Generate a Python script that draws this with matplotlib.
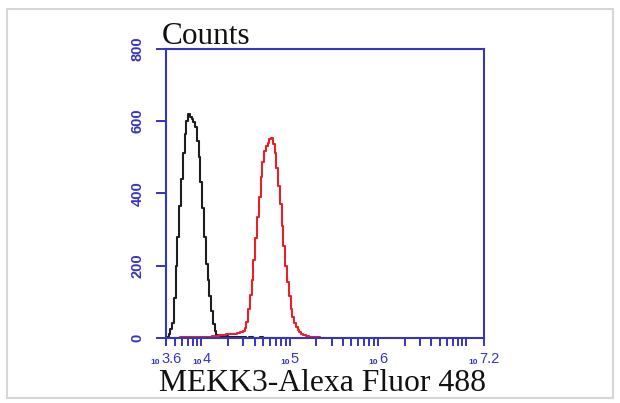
"""Flow cytometry histogram: MEKK3-Alexa Fluor 488 vs control"""

import numpy as np
import matplotlib
matplotlib.use("Agg")
from matplotlib import pyplot as plt
from matplotlib.patches import Rectangle
from matplotlib.ticker import FixedLocator, NullFormatter, LogLocator
from matplotlib.offsetbox import TextArea, HPacker, AnnotationBbox

# Histogram data (log10 of fluorescence, counts)
control_log = [3.60, 3.62, 3.64, 3.66, 3.68, 3.70, 3.72, 3.74, 3.76, 3.78,
               3.80, 3.82, 3.84, 3.86, 3.88, 3.90, 3.92, 3.94, 3.96, 3.98,
               4.00, 4.02, 4.04, 4.06, 4.08, 4.10, 4.12, 4.14, 4.16, 4.18,
               4.20, 4.24, 4.28, 4.32, 4.36, 4.40, 4.44, 4.48, 4.52, 4.56,
               4.60, 4.64, 4.68, 4.72, 4.76, 4.80, 4.84, 4.88, 4.92, 4.96]
control_counts = [0, 4, 12, 25, 42, 110, 198, 280, 365, 440,
                  510, 565, 600, 618, 612, 606, 598, 582, 545, 500,
                  430, 360, 280, 205, 160, 115, 75, 40, 20, 9,
                  6, 5, 6, 4, 3, 2, 2, 2, 1, 2,
                  1, 1, 2, 1, 1, 1, 0, 1, 0, 0]

mekk3_log = [3.60, 3.70, 3.80, 3.90, 4.00, 4.06, 4.10, 4.14, 4.18, 4.22,
             4.26, 4.30, 4.34, 4.38, 4.42, 4.46, 4.48, 4.50, 4.52, 4.54,
             4.56, 4.58, 4.60, 4.62, 4.64, 4.66, 4.68, 4.70, 4.72, 4.74,
             4.76, 4.78, 4.80, 4.82, 4.84, 4.86, 4.88, 4.90, 4.92, 4.94,
             4.96, 4.98, 5.00, 5.02, 5.04, 5.06, 5.08, 5.10, 5.12, 5.14,
             5.16, 5.18, 5.20, 5.24, 5.28, 5.32, 5.36, 5.40]
mekk3_counts = [1, 1, 2, 2, 2, 3, 4, 5, 6, 8,
                9, 10, 11, 12, 14, 17, 20, 28, 45, 80,
                120, 160, 215, 275, 335, 390, 445, 485, 518, 530,
                540, 550, 553, 535, 510, 470, 420, 370, 310, 255,
                200, 155, 115, 80, 58, 42, 30, 22, 16, 12,
                9, 7, 5, 4, 3, 2, 1, 0]

# Axis ticks
y_ticks = [0, 200, 400, 600, 800]
x_tick_exp = [3.6, 4, 5, 6, 7.2]
x_tick_labels = ["3.6", "4", "5", "6", "7.2"]

blue = "#3535c0"

fig = plt.figure(figsize=(6.2, 4.03), dpi=100)
fig.patch.set_facecolor("white")

# light grey frame around the whole picture
fig.patches.append(Rectangle((7 / 620, 5 / 403), 606 / 620, 389 / 403,
                             transform=fig.transFigure, fill=False,
                             edgecolor="#d6d6d6", linewidth=1.5))

ax = fig.add_axes([166 / 620, 65 / 403, 318 / 620, 289.5 / 403])

ax.plot(10 ** np.array(control_log), control_counts, drawstyle="steps-mid",
        color="#1e1e1e", linewidth=1.5)
ax.plot(10 ** np.array(mekk3_log), mekk3_counts, drawstyle="steps-mid",
        color="#e8202a", linewidth=1.5)

ax.set_xscale("log")
ax.set_xlim(10 ** 3.6, 10 ** 7.2)
ax.set_ylim(0, 800)

ax.xaxis.set_major_locator(FixedLocator([10 ** e for e in x_tick_exp]))
ax.xaxis.set_major_formatter(NullFormatter())
ax.xaxis.set_minor_locator(LogLocator(base=10, subs=np.arange(1, 10)))
ax.xaxis.set_minor_formatter(NullFormatter())
ax.set_yticks(y_ticks)
ax.set_yticklabels([str(v) for v in y_ticks], rotation=90, va="center",
                   family="Liberation Sans", fontweight="bold")

for side in ax.spines.values():
    side.set_color(blue)
    side.set_linewidth(1.5)

ax.tick_params(axis="x", which="both", direction="out", length=6, width=1.4,
               color=blue)
ax.tick_params(axis="y", direction="out", length=7.5, width=1.4,
               color=blue, labelcolor=blue, labelsize=10.5, pad=8)

# x tick labels: tiny "10" followed by the exponent
for e, lab in zip(x_tick_exp, x_tick_labels):
    base = TextArea("10", textprops=dict(color=blue, fontsize=6, fontweight="bold",
                                         family="Liberation Sans"))
    expo = TextArea(lab, textprops=dict(color=blue, fontsize=10.5,
                                        family="Liberation Sans"))
    box = HPacker(children=[base, expo], align="bottom", pad=0, sep=0.5)
    ab = AnnotationBbox(box, (10 ** e, 0), xycoords=("data", "axes fraction"),
                        xybox=(0, -10), boxcoords="offset points",
                        box_alignment=(0.5, 1), frameon=False,
                        annotation_clip=False)
    ax.add_artist(ab)

# axis titles
fig.text(162 / 620, 1 - 44 / 403, "Counts", family="Liberation Serif",
         fontsize=22.5, va="baseline", ha="left", color="#111111")
fig.text(159 / 620, 1 - 391 / 403, "MEKK3-Alexa Fluor 488", family="Liberation Serif",
         fontsize=22.8, va="baseline", ha="left", color="#111111")

fig.savefig("out.png", dpi=100)
